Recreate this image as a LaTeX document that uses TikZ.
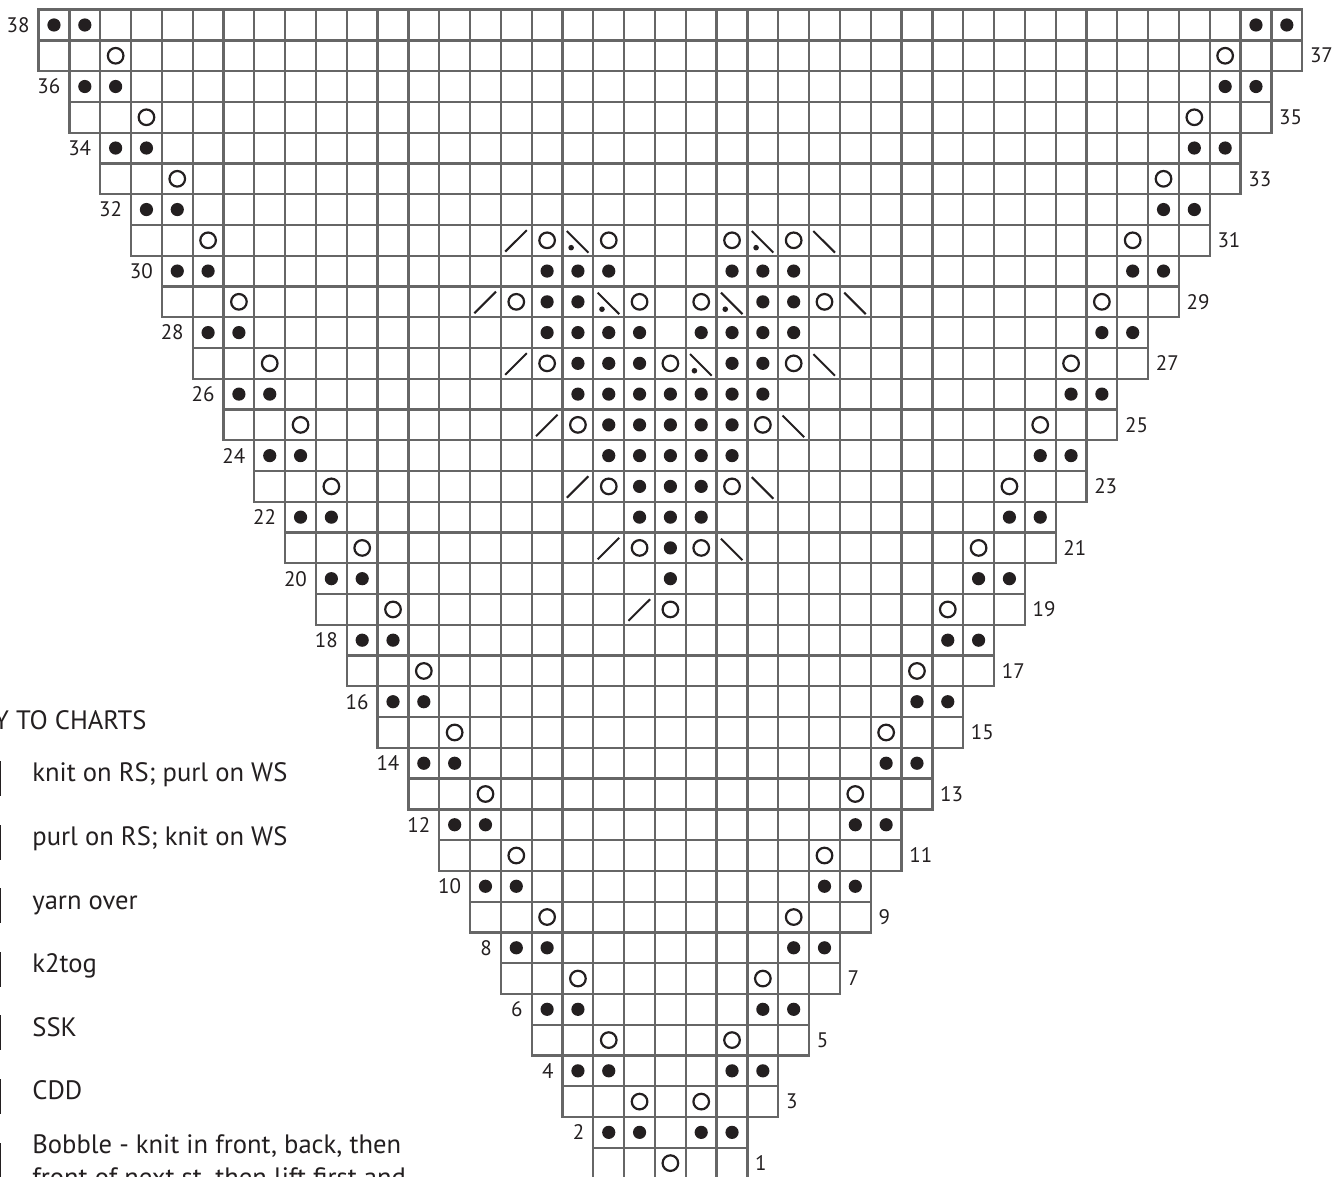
\documentclass[tikz,border=0pt]{standalone}
\usepackage{fontspec}
\setmainfont{PT Sans}
\usepackage{tikz}
\usetikzlibrary{calc}
\definecolor{Ink}{HTML}{231F20}
\definecolor{Grid}{HTML}{666666}

\begin{document}
\begin{tikzpicture}[x=15.41pt,y=15.38pt,
  cell/.style={draw=Grid,line width=1.15pt},
  purl/.style={fill=Ink},
  yo/.style={draw=Ink,line width=1.1pt},
  dec/.style={draw=Ink,line width=1pt},
  rownum/.style={font=\fontsize{10.5}{12}\selectfont,inner sep=0pt,text=Ink},
  keytext/.style={font=\fontsize{13.3}{16.5}\selectfont,inner sep=0pt,
    anchor=base west,text=Ink},
  keybox/.style={draw=Ink,line width=1pt,minimum width=16.5pt,
    minimum height=16.5pt,inner sep=0pt,anchor=east}]
  \useasboundingbox (-21.752,0.049) rectangle (21.499,38.313);
  \clip (-21.752,0.049) rectangle (21.499,38.313);

  % chart cells, the width grows every second row
  \foreach \r in {1,...,38}{
    \pgfmathtruncatemacro\h{(\r+1)/2+1}
    \foreach \c in {-\h,...,\h}
      \draw[cell] (\c-0.5,\r-1) rectangle ++(1,1);
    \ifodd\r
      \node[rownum,anchor=west] (n\r) at (\h+0.74,\r-0.5) {\r};
    \else
      \node[rownum,anchor=east] (n\r) at (-\h-0.78,\r-0.5) {\r};
    \fi
  }

  % edge yarn overs and purls
  \foreach \k in {1,...,19}{
    \pgfmathtruncatemacro\a{\k-1}
    \draw[yo] (-\a,2*\k-1.5) circle[radius=3.9pt] (\a,2*\k-1.5) circle[radius=3.9pt];
    \foreach \c in {-\k-1,-\k,\k,\k+1}
      \fill[purl] (\c,2*\k-0.5) circle[radius=3.3pt];
  }

  % central motif
  \foreach \c/\r in {0/20,0/21,-1/22,0/22,1/22,-1/23,0/23,1/23,
      -2/24,-1/24,0/24,1/24,2/24,-2/25,-1/25,0/25,1/25,2/25,
      -3/26,-2/26,-1/26,0/26,1/26,2/26,3/26,-3/27,-2/27,-1/27,2/27,3/27,
      -4/28,-3/28,-2/28,-1/28,1/28,2/28,3/28,4/28,-4/29,-3/29,3/29,4/29,
      -4/30,-3/30,-2/30,2/30,3/30,4/30}
    \fill[purl] (\c,\r-0.5) circle[radius=3.3pt];
  \foreach \c/\r in {0/19,-1/21,1/21,-2/23,2/23,-3/25,3/25,-4/27,0/27,4/27,
      -5/29,-1/29,1/29,5/29,-4/31,-2/31,2/31,4/31}
    \draw[yo] (\c,\r-0.5) circle[radius=3.9pt];
  \foreach \c/\r in {-1/19,-2/21,-3/23,-4/25,-5/27,-6/29,-5/31}
    \draw[dec] (\c-0.36,\r-0.87) -- ++(0.7,0.7);
  \foreach \c/\r in {2/21,3/23,4/25,5/27,6/29,5/31,1/27,-2/29,2/29,-3/31,3/31}
    \draw[dec] (\c-0.36,\r-0.2) -- ++(0.7,-0.7);
  \foreach \c/\r in {1/27,-2/29,2/29,-3/31,3/31}
    \fill[purl] (\c-0.22,\r-0.74) circle[radius=1.4pt];

  % key
  \node[keybox] (key1) at (-21.72,13.004) {};
  \node[keybox] (key2) at (-21.72,10.936) {};
  \node[keybox] (key3) at (-21.72,8.868) {};
  \node[keybox] (key4) at (-21.72,6.800) {};
  \node[keybox] (key5) at (-21.72,4.732) {};
  \node[keybox] (key6) at (-21.72,2.664) {};
  \node[keybox] (key7) at (-21.72,0.601) {};
  \node[keytext,anchor=base east] (keytitle) at ([xshift=73pt,yshift=24.25pt]key1.east) {KEY TO CHARTS};
  \node[keytext] (knit) at ([xshift=15.5pt,yshift=-1.65pt]key1.east) {knit on RS; purl on WS};
  \node[keytext] (purlrs) at ([xshift=15.5pt,yshift=-1.65pt]key2.east) {purl on RS; knit on WS};
  \node[keytext] (yarnover) at ([xshift=15.5pt,yshift=-1.65pt]key3.east) {yarn over};
  \node[keytext] (ktog) at ([xshift=15.5pt,yshift=-1.65pt]key4.east) {k2tog};
  \node[keytext] (ssk) at ([xshift=15.5pt,yshift=-1.65pt]key5.east) {SSK};
  \node[keytext] (cdd) at ([xshift=15.5pt,yshift=-1.65pt]key6.east) {CDD};
  \node[keytext] (bobble) at ([xshift=15.5pt,yshift=3.5pt]key7.east) {Bobble - knit in front, back, then};
  \node[keytext] (bobblenext) at ([yshift=-16.5pt]bobble.base west) {front of next st, then lift first and};
\end{tikzpicture}
\end{document}
